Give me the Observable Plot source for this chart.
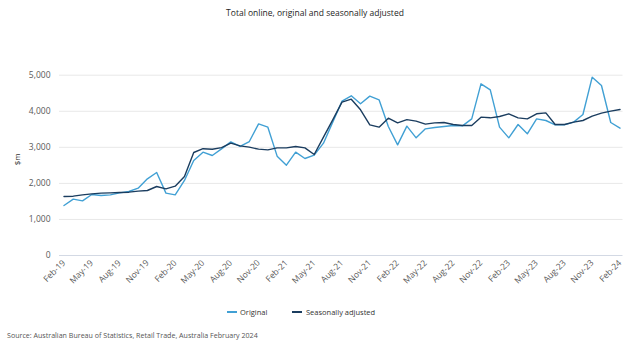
<!DOCTYPE html>
<html>
<head>
<meta charset="utf-8">
<script src="https://cdn.jsdelivr.net/npm/d3@7"></script>
<script src="https://cdn.jsdelivr.net/npm/@observablehq/plot@0.6"></script>
<style>
  body { margin: 0; background: #fff; }
  #wrap { position: relative; width: 630px; height: 350px; font-family: "Open Sans", sans-serif; overflow: hidden; }
  #title { position: absolute; left: 0; top: 4px; width: 630px; text-align: center; font-size: 8.5px; line-height: 18px; color: #252525; }
  #chart { position: absolute; left: 0; top: 26px; }
  .lg { position: absolute; top: 304px; font-size: 7.5px; line-height: 16px; color: #333; white-space: nowrap; }
  .sw { position: absolute; top: 311px; width: 10px; height: 2px; }
  #source { position: absolute; left: 7px; top: 327px; font-size: 7.1px; line-height: 16px; color: #555; white-space: nowrap; }
</style>
</head>
<body>
<div id="wrap">
  <div id="title">Total online, original and seasonally adjusted</div>
  <div id="chart"></div>
  <div class="sw" style="left:227px;background:#41a0d4"></div>
  <div class="lg" style="left:240px">Original</div>
  <div class="sw" style="left:292px;background:#1b3d5f"></div>
  <div class="lg" style="left:306px">Seasonally adjusted</div>
  <div id="source">Source: Australian Bureau of Statistics, Retail Trade, Australia February 2024</div>
</div>
<script>
const months = [
  "Feb-19","Mar-19","Apr-19","May-19","Jun-19","Jul-19","Aug-19","Sep-19","Oct-19","Nov-19","Dec-19","Jan-20",
  "Feb-20","Mar-20","Apr-20","May-20","Jun-20","Jul-20","Aug-20","Sep-20","Oct-20","Nov-20","Dec-20","Jan-21",
  "Feb-21","Mar-21","Apr-21","May-21","Jun-21","Jul-21","Aug-21","Sep-21","Oct-21","Nov-21","Dec-21","Jan-22",
  "Feb-22","Mar-22","Apr-22","May-22","Jun-22","Jul-22","Aug-22","Sep-22","Oct-22","Nov-22","Dec-22","Jan-23",
  "Feb-23","Mar-23","Apr-23","May-23","Jun-23","Jul-23","Aug-23","Sep-23","Oct-23","Nov-23","Dec-23","Jan-24",
  "Feb-24"
];
const original = [
  1387,1562,1516,1692,1664,1682,1738,1775,1867,2126,2302,1729,
  1682,2080,2635,2866,2773,2958,3152,3023,3161,3651,3559,2755,
  2505,2866,2690,2782,3115,3698,4280,4428,4206,4419,4317,3577,
  3069,3587,3263,3513,3550,3577,3605,3596,3790,4761,4594,3559,
  3263,3633,3374,3790,3744,3624,3624,3698,3910,4946,4714,3688,
  3531
];
const seasonallyAdjusted = [
  1636,1645,1682,1710,1729,1738,1747,1756,1784,1803,1913,1849,
  1923,2191,2856,2962,2945,2990,3115,3041,3004,2949,2930,2986,
  2986,3023,2986,2801,3282,3762,4252,4335,4040,3624,3559,3809,
  3679,3767,3725,3642,3679,3688,3633,3605,3605,3836,3818,3855,
  3929,3818,3790,3929,3956,3633,3633,3698,3744,3864,3947,4003,
  4049
];
const xTickLabels = ["Feb-19","May-19","Aug-19","Nov-19","Feb-20","May-20","Aug-20","Nov-20","Feb-21","May-21","Aug-21","Nov-21","Feb-22","May-22","Aug-22","Nov-22","Feb-23","May-23","Aug-23","Nov-23","Feb-24"];
const yTicks = [0, 1000, 2000, 3000, 4000, 5000];
const yLabel = "$m";

const data = months.map((m, i) => ({i, m, original: original[i], sa: seasonallyAdjusted[i]}));
const xTicks = xTickLabels.map(l => months.indexOf(l));

const chart = Plot.plot({
  width: 630,
  height: 270,
  marginLeft: 59,
  marginRight: 7.5,
  marginTop: 48.7,
  marginBottom: 41,
  style: {fontFamily: "'Open Sans', sans-serif", fontSize: "8.5px", color: "#595959", background: "transparent"},
  x: {type: "linear", domain: [0, 60], insetLeft: 4.5, insetRight: 3, ticks: xTicks, tickFormat: i => months[i], tickRotate: -45, tickSize: 0, tickPadding: 6, label: null},
  y: {domain: [0, 5000], ticks: yTicks, tickFormat: d3.format(","), tickSize: 0, tickPadding: 9, label: null},
  marks: [
    Plot.ruleY(yTicks.filter(d => d > 0), {stroke: "#e8e8e8", strokeWidth: 1}),
    Plot.ruleY([0], {stroke: "#d3d9e4", strokeWidth: 1}),
    Plot.line(data, {x: "i", y: "original", stroke: "#41a0d4", strokeWidth: 1.4}),
    Plot.line(data, {x: "i", y: "sa", stroke: "#1b3d5f", strokeWidth: 1.4}),
    Plot.text([yLabel], {frameAnchor: "left", dx: -42, rotate: -90, fill: "#333", fontSize: 8})
  ]
});
document.getElementById("chart").appendChild(chart);
</script>
</body>
</html>
